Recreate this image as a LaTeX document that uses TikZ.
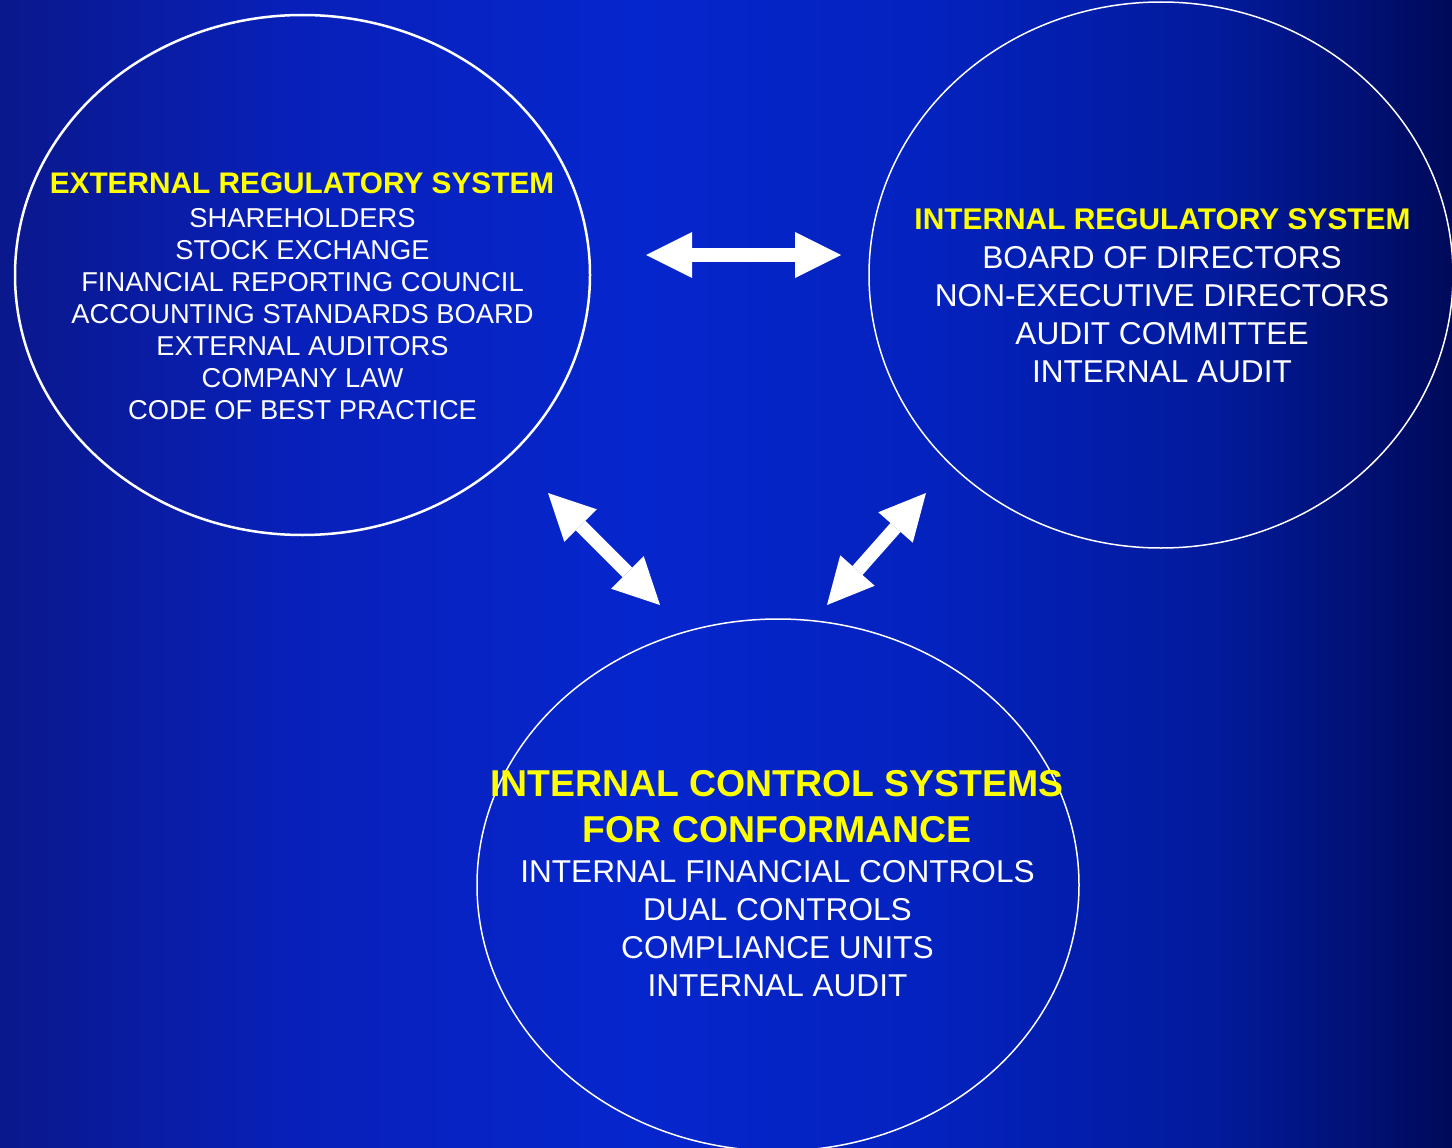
\documentclass[tikz,border=0pt]{standalone}
\usepackage{fontspec}
\setmainfont{Liberation Sans}
\usetikzlibrary{shapes.geometric,arrows.meta}

\definecolor{bgA}{RGB}{10,24,140}
\definecolor{bgB}{RGB}{8,32,185}
\definecolor{bgC}{RGB}{6,38,205}
\definecolor{bgD}{RGB}{4,34,190}
\definecolor{bgE}{RGB}{2,26,155}
\definecolor{bgF}{RGB}{0,10,90}
\definecolor{headyellow}{RGB}{255,255,0}

% horizontal background: navy at the sides, brighter blue left of centre
\pgfdeclarehorizontalshading{slideback}{100bp}{%
  color(0bp)=(bgA); color(25bp)=(bgA); color(35bp)=(bgB); color(47bp)=(bgC);
  color(57bp)=(bgD); color(67bp)=(bgE); color(75bp)=(bgF); color(100bp)=(bgF)}

\tikzset{
  regionellipse/.style={ellipse, draw=white, inner sep=0pt, fill=none},
  headtext/.style={anchor=base, text=headyellow, font=\bfseries\fontsize{#1}{#1}\selectfont, inner sep=0pt},
  itemtext/.style={anchor=base, text=white, font=\fontsize{#1}{#1}\selectfont, inner sep=0pt},
  blockarrow/.style={draw=white, line width=13.5pt,
    {Triangle[length=46pt,width=46pt,line width=0pt]}-{Triangle[length=46pt,width=46pt,line width=0pt]}}
}

\begin{document}
\begin{tikzpicture}[x=1pt,y=-1pt]
  \shade[shading=slideback] (0,0) rectangle (1452,1148);
  \useasboundingbox (0,0) rectangle (1452,1148);

  % the three regulatory systems
  \node[regionellipse, line width=2.5pt, minimum width=575pt, minimum height=520pt] (ext) at (302.5,275) {};
  \node[regionellipse, line width=1.5pt, minimum width=584pt, minimum height=546pt] (int) at (1161,275) {};
  \node[regionellipse, line width=1.5pt, minimum width=602pt, minimum height=532pt] (ics) at (778,885) {};

  % external regulatory system
  \node[headtext=29.8] (exthead) at (302,193) {EXTERNAL REGULATORY SYSTEM};
  \foreach \txt [count=\i from 0] in {SHAREHOLDERS, STOCK EXCHANGE, FINANCIAL REPORTING COUNCIL,
      ACCOUNTING STANDARDS BOARD, EXTERNAL AUDITORS, COMPANY LAW, CODE OF BEST PRACTICE}
    \node[itemtext=27.3] (ext\i) at (302.5,227+32*\i) {\txt};

  % internal regulatory system
  \node[headtext=29.9] (inthead) at (1162.5,229.5) {INTERNAL REGULATORY SYSTEM};
  \foreach \txt [count=\i from 0] in {BOARD OF DIRECTORS, NON-EXECUTIVE DIRECTORS,
      AUDIT COMMITTEE, INTERNAL AUDIT}
    \node[itemtext=31.6] (int\i) at (1162,268+38*\i) {\txt};

  % internal control systems
  \node[headtext=37.4] (icshead) at (777,796) {INTERNAL CONTROL SYSTEMS};
  \node[headtext=37.4] (icshead2) at (777,842) {FOR CONFORMANCE};
  \foreach \txt [count=\i from 0] in {INTERNAL FINANCIAL CONTROLS, DUAL CONTROLS,
      COMPLIANCE UNITS, INTERNAL AUDIT}
    \node[itemtext=31.6] (ics\i) at (777.5,882+38*\i) {\txt};

  % two-way links between the systems
  \coordinate (extR) at (646,255);
  \coordinate (intL) at (841,255);
  \coordinate (extB) at (548,493);
  \coordinate (icsL) at (660,605);
  \coordinate (intB) at (926,493);
  \coordinate (icsR) at (827,605);
  \draw[blockarrow] (extR) -- (intL);
  \draw[blockarrow] (extB) -- (icsL);
  \draw[blockarrow] (intB) -- (icsR);
\end{tikzpicture}
\end{document}
